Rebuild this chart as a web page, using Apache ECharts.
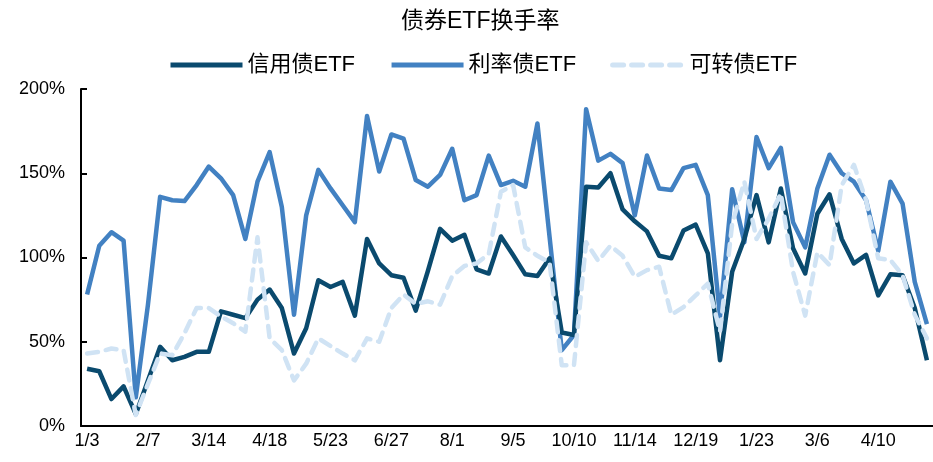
<!DOCTYPE html>
<html>
<head>
<meta charset="utf-8">
<script src="https://cdn.jsdelivr.net/npm/echarts@6/dist/echarts.min.js"></script>
<style>html,body{margin:0;padding:0;background:#fff}#c{width:933px;height:462px}</style>
</head>
<body>
<div id="c"></div>
<script>
var categories = ['1/3','1/10','1/17','1/24','1/31','2/7','2/14','2/21','2/28','3/7',
'3/14','3/21','3/28','4/3','4/11','4/18','4/25','4/30','5/9','5/16',
'5/23','5/30','6/6','6/13','6/20','6/27','7/4','7/11','7/18','7/25',
'8/1','8/8','8/15','8/22','8/29','9/5','9/12','9/19','9/26','9/30',
'10/10','10/17','10/24','10/31','11/7','11/14','11/21','11/28','12/5','12/12',
'12/19','12/26','12/31','1/9','1/16','1/23','1/30','2/6','2/13','2/27',
'3/6','3/13','3/20','3/27','4/3','4/10','4/17','4/24','4/30','5/8'];

var creditBond = [34,32.5,16,23.5,7,27,47,39,41,44,
44,68,66,64,75,81,70,43,58,86.5,
82.5,85.5,65.5,111,96.5,89.5,88,68.5,92,117,
110,113.5,93,90.5,112.5,101.5,90,89,99.5,55.5,
54,142,141.5,150,128.5,121.5,115.5,101,99.5,116,
119.5,102.5,39,91.5,111,137,109,141,105.5,90.5,
126,137.5,111,96.5,101.5,77.5,90,89.5,70,39];

var rateBond = [78,107,115,110,17,72,136,134,133.5,143,
154,147,137,111,145,162.5,130,66,125,152,
141,131,121,184,151,173,170.5,146,142,149,
164.5,134,137,160.5,143,145.5,142,179.5,112,45,
54,188,157.5,161.5,156,125,160.5,141,140,153,
155,137,65,140.5,109,171.5,153,165,121,106,
141,161,150,145,134,104,145,132,85.5,60.5];

var convBond = [43,44,46,45,6.5,25,43,42,55,70,
70,65,61,56,112,52,45,27,37,52,
47.5,43,39,52,50,70,78,72.5,74,72,
89,95,96.5,102,139,143,106,101,97,36,
36,109,98,107,101,88.5,92.5,94.5,66,70.5,
77.5,84.5,56,120,145,111,123,138,91.5,65.5,
103,95.5,143,155,134,99.5,98.5,89.5,66,52];

var yTicks = [0, 50, 100, 150, 200];
var seriesNames = ['信用债ETF', '利率债ETF', '可转债ETF'];
var titleText = '债券ETF换手率';

var FONT = '"Liberation Sans", Arial, "Noto Sans CJK SC", sans-serif';
var chart = echarts.init(document.getElementById('c'), null, {renderer: 'canvas'});
chart.setOption({
  animation: false,
  backgroundColor: '#fff',
  title: {
    text: titleText, left: 396, top: 5,
    textStyle: {fontFamily: FONT, fontSize: 23, fontWeight: 'normal', color: '#000'}
  },
  legend: {
    data: seriesNames, left: 163, top: 49,
    itemWidth: 72, itemHeight: 14, itemGap: 34,
    itemStyle: {opacity: 0},
    lineStyle: {width: 5},
    textStyle: {fontFamily: FONT, fontSize: 22, color: '#000'}
  },
  grid: {left: 81, right: 0, top: 89, bottom: 36, containLabel: false},
  xAxis: {
    type: 'category', data: categories, boundaryGap: true,
    axisLine: {lineStyle: {color: '#000', width: 2}},
    axisTick: {inside: true, length: 6, interval: 4, lineStyle: {color: '#000', width: 2}},
    axisLabel: {interval: 4, color: '#000', fontFamily: FONT, fontSize: 18, margin: 6}
  },
  yAxis: {
    type: 'value', min: yTicks[0], max: yTicks[yTicks.length - 1], interval: 50,
    splitLine: {show: false},
    axisLine: {show: true, lineStyle: {color: '#000', width: 2}},
    axisTick: {show: true, inside: true, length: 6, lineStyle: {color: '#000', width: 2}},
    axisLabel: {formatter: '{value}%', color: '#000', fontFamily: FONT, fontSize: 18, margin: 16}
  },
  series: [
    {name: seriesNames[0], type: 'line', data: creditBond, symbol: 'none', z: 3,
     lineStyle: {color: '#0a4a6e', width: 4.5, join: 'round'}, itemStyle: {color: '#0a4a6e'}},
    {name: seriesNames[1], type: 'line', data: rateBond, symbol: 'none', z: 2,
     lineStyle: {color: '#4281c2', width: 4.5, join: 'round'}, itemStyle: {color: '#4281c2'}},
    {name: seriesNames[2], type: 'line', data: convBond, symbol: 'none', z: 4,
     lineStyle: {color: '#d0e3f4', width: 4.5, type: [11, 8], cap: 'round', join: 'round'}, itemStyle: {color: '#d0e3f4'}}
  ]
});
</script>
</body>
</html>
